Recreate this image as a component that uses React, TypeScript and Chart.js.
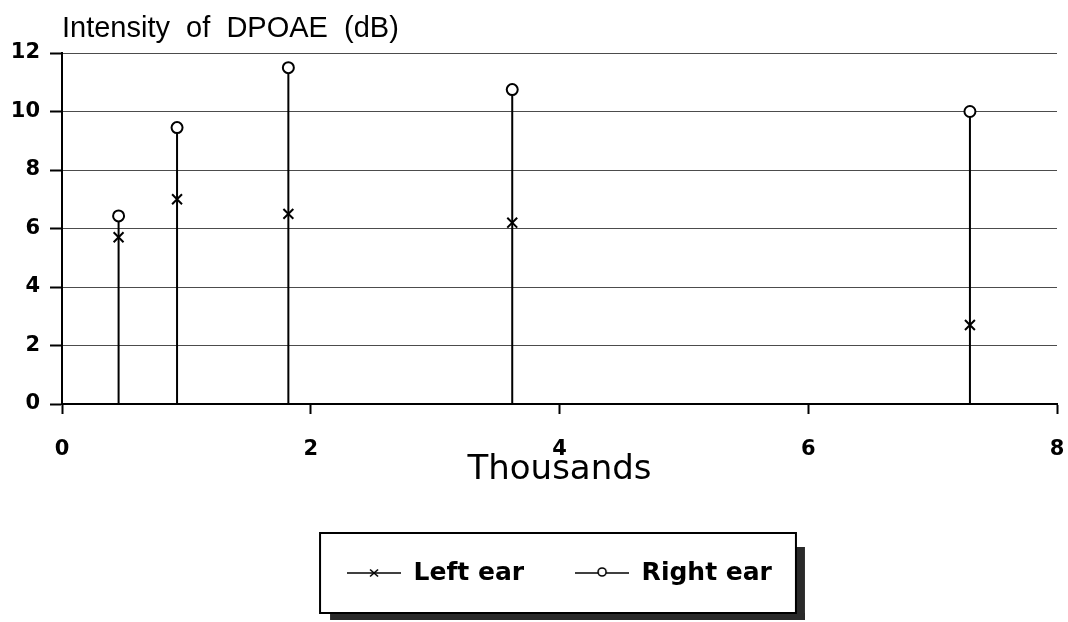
import React, { useEffect, useRef } from "react";
import { Chart, registerables } from "chart.js";

Chart.register(...registerables);

const frequencies = [0.455, 0.925, 1.82, 3.62, 7.3];
const leftEar = [5.7, 7.0, 6.5, 6.2, 2.7];
const rightEar = [6.43, 9.45, 11.5, 10.75, 10.0];
const seriesLabels = ["Left ear", "Right ear"];
const chartTitle = "Intensity  of  DPOAE  (dB)";
const xAxisTitle = "Thousands";
const xRange = [0, 8];
const yRange = [0, 12];
const tickStep = 2;

function makeLegendImage(kind: "cross" | "circle"): HTMLCanvasElement {
  const c = document.createElement("canvas");
  c.width = 54;
  c.height = 14;
  const ctx = c.getContext("2d")!;
  ctx.strokeStyle = "#000";
  ctx.lineWidth = 1.6;
  ctx.beginPath();
  ctx.moveTo(0, 7);
  ctx.lineTo(54, 7);
  ctx.stroke();
  if (kind === "cross") {
    ctx.lineWidth = 1.6;
    ctx.beginPath();
    ctx.moveTo(23, 3.5);
    ctx.lineTo(31, 10.5);
    ctx.moveTo(31, 3.5);
    ctx.lineTo(23, 10.5);
    ctx.stroke();
  } else {
    ctx.fillStyle = "#fff";
    ctx.beginPath();
    ctx.arc(27, 6, 4, 0, Math.PI * 2);
    ctx.fill();
    ctx.stroke();
  }
  return c;
}

const decorPlugin = {
  id: "decor",
  afterDraw(chart: any) {
    const ctx = chart.ctx as CanvasRenderingContext2D;
    const area = chart.chartArea;
    ctx.save();
    ctx.fillStyle = "#000";
    ctx.font = "29px 'Liberation Sans', Arial, sans-serif";
    ctx.textAlign = "left";
    ctx.textBaseline = "alphabetic";
    ctx.fillText(chartTitle, area.left, 37);

    const hbs = chart.legend && chart.legend.legendHitBoxes;
    if (hbs && hbs.length) {
      const first = hbs[0];
      const last = hbs[hbs.length - 1];
      const left = first.left - 27;
      const right = last.left + last.width + 24;
      const cy = first.top + first.height / 2;
      const top = cy - 40;
      const bottom = cy + 40;
      ctx.fillStyle = "#2a2a2a";
      ctx.fillRect(right, top + 14, 9, bottom - top - 14 + 7);
      ctx.fillRect(left + 10, bottom, right - left - 10 + 9, 7);
      ctx.strokeStyle = "#000";
      ctx.lineWidth = 2;
      ctx.strokeRect(left, top, right - left, bottom - top);
    }
    ctx.restore();
  },
};

export default function App() {
  const canvasRef = useRef<HTMLCanvasElement | null>(null);

  useEffect(() => {
    const canvas = canvasRef.current;
    if (!canvas) return;

    const stems: any[] = [];
    frequencies.forEach((f, i) => {
      stems.push({ x: f, y: 0 });
      stems.push({ x: f, y: Math.max(leftEar[i], rightEar[i]) });
      stems.push({ x: f, y: null });
    });

    const leftImg = makeLegendImage("cross");
    const rightImg = makeLegendImage("circle");

    Chart.defaults.color = "#000";

    const chart = new Chart(canvas, {
      type: "line",
      data: {
        datasets: [
          {
            label: seriesLabels[1],
            data: frequencies.map((f, i) => ({ x: f, y: rightEar[i] })),
            showLine: false,
            pointStyle: "circle",
            pointRadius: 5.5,
            pointBorderWidth: 2,
            pointBackgroundColor: "#fff",
            pointBorderColor: "#000",
            borderColor: "#000",
            order: 0,
          },
          {
            label: seriesLabels[0],
            data: frequencies.map((f, i) => ({ x: f, y: leftEar[i] })),
            showLine: false,
            pointStyle: "crossRot",
            pointRadius: 7,
            pointBorderWidth: 2,
            pointBorderColor: "#000",
            borderColor: "#000",
            order: 1,
          },
          {
            label: "stems",
            data: stems,
            borderColor: "#000",
            borderWidth: 2,
            pointRadius: 0,
            spanGaps: false,
            order: 2,
          },
        ],
      },
      options: {
        animation: false,
        responsive: false,
        devicePixelRatio: 1,
        layout: { padding: { left: 0, right: 11, top: 53, bottom: 26.5 } },
        plugins: {
          tooltip: { enabled: false },
          title: { display: false },
          legend: {
            display: true,
            position: "bottom",
            fullSize: false,
            labels: {
              usePointStyle: true,
              pointStyleWidth: 54,
              padding: 51,
              color: "#000",
              font: { family: "'DejaVu Sans', sans-serif", size: 25, weight: "bold" },
              generateLabels: () => [
                {
                  text: seriesLabels[0],
                  pointStyle: leftImg,
                  fillStyle: "#000",
                  strokeStyle: "#000",
                  lineWidth: 0,
                  hidden: false,
                  datasetIndex: 1,
                  fontColor: "#000",
                } as any,
                {
                  text: seriesLabels[1],
                  pointStyle: rightImg,
                  fillStyle: "#000",
                  strokeStyle: "#000",
                  lineWidth: 0,
                  hidden: false,
                  datasetIndex: 0,
                  fontColor: "#000",
                } as any,
              ],
            },
          },
        },
        scales: {
          x: {
            type: "linear",
            min: xRange[0],
            max: xRange[1],
            afterFit: (scale: any) => {
              scale.height = 105.5;
              scale.paddingLeft = 0;
              scale.paddingRight = 0;
            },
            ticks: {
              stepSize: tickStep,
              padding: 23,
              color: "#000",
              font: { family: "'DejaVu Sans', sans-serif", size: 21, weight: "bold" },
            },
            grid: {
              drawOnChartArea: false,
              drawTicks: true,
              tickLength: 10,
              tickColor: "#000",
              tickWidth: 2,
            },
            border: { display: true, color: "#000", width: 2 },
            title: {
              display: true,
              text: xAxisTitle,
              color: "#000",
              font: { family: "'DejaVu Sans', sans-serif", size: 34 },
              padding: { top: 0, bottom: 19 },
            },
          },
          y: {
            type: "linear",
            min: yRange[0],
            max: yRange[1],
            afterFit: (scale: any) => {
              scale.width = 62;
            },
            ticks: {
              stepSize: tickStep,
              padding: 10,
              color: "#000",
              font: { family: "'DejaVu Sans', sans-serif", size: 21, weight: "bold" },
            },
            grid: {
              color: "rgba(0,0,0,0.7)",
              lineWidth: 1,
              borderDash: [2, 2],
              drawTicks: true,
              tickLength: 12,
              tickColor: "#000",
              tickWidth: 2,
              tickBorderDash: [],
            },
            border: { display: true, color: "#000", width: 2 },
          },
        },
      },
      plugins: [decorPlugin],
    } as any);

    return () => {
      chart.destroy();
    };
  }, []);

  return (
    <div style={{ position: "fixed", left: 0, top: 0, width: 1068, height: 622, background: "#fff" }}>
      <canvas ref={canvasRef} width={1068} height={622} style={{ display: "block" }} />
    </div>
  );
}
